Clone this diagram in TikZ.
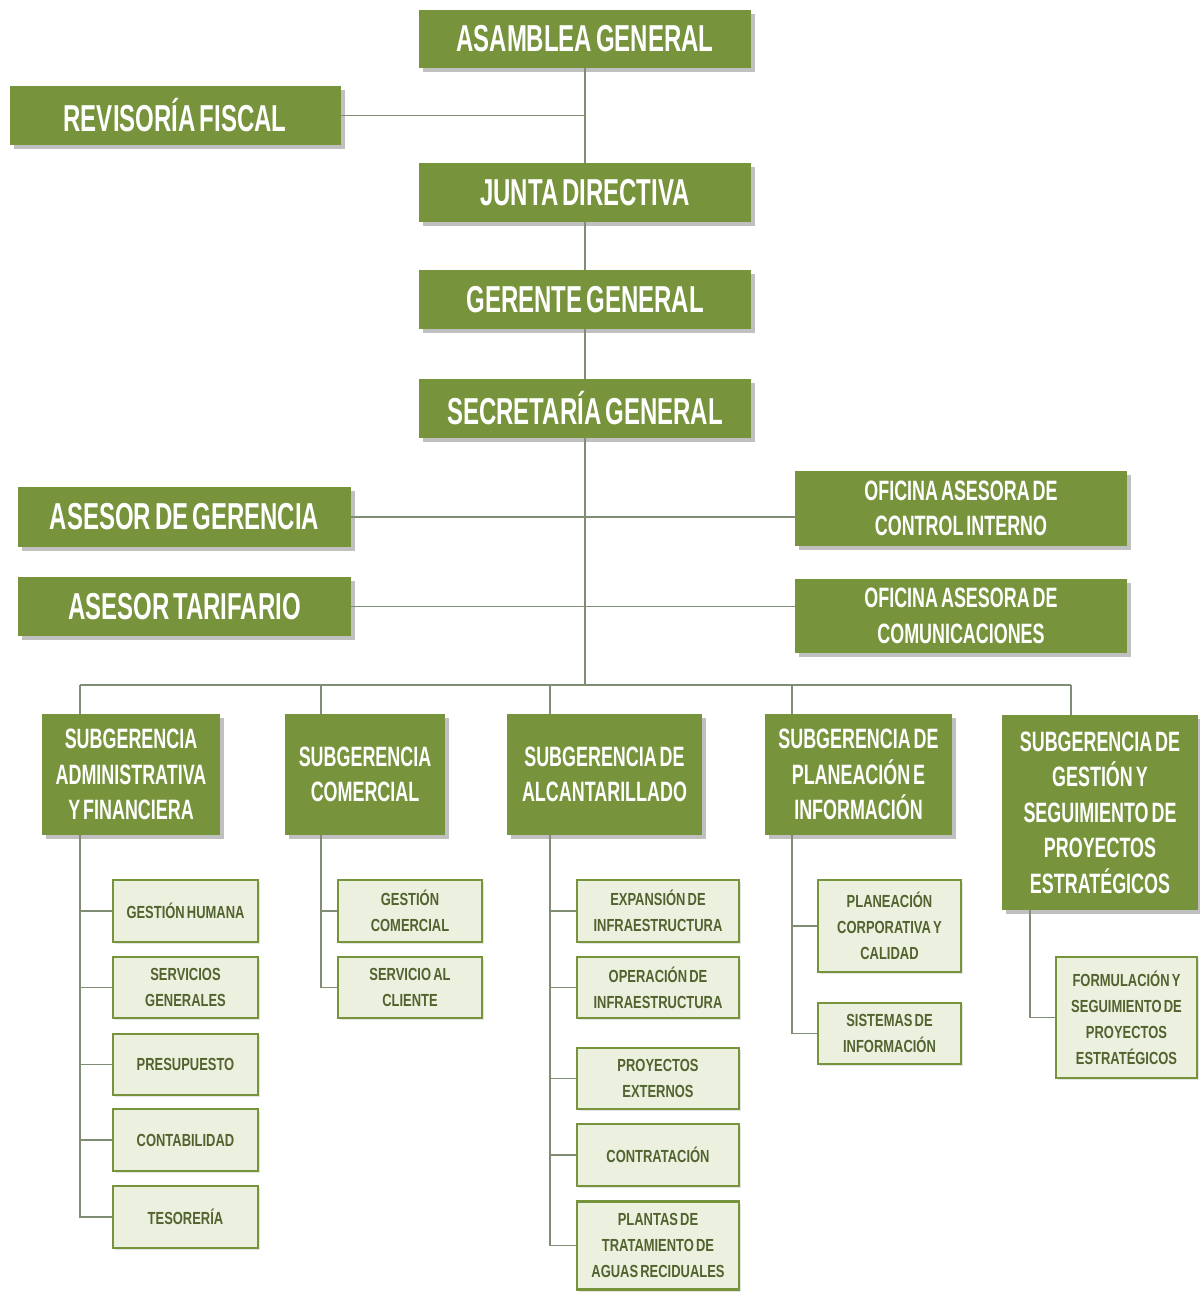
\documentclass[tikz,border=0pt]{standalone}
\usepackage{fontspec}
\setmainfont{Liberation Sans}
\newfontfamily\bigfont{Liberation Sans}[FakeStretch=0.64, WordSpace=0.6]
\newfontfamily\itemfont{Liberation Sans}[FakeStretch=0.74, WordSpace=0.6]
\usetikzlibrary{shadows}
\definecolor{olive}{HTML}{77933C}
\definecolor{palegreen}{HTML}{EBF1DE}
\definecolor{itemtext}{HTML}{52632F}
\definecolor{linkgray}{HTML}{7F8E72}
\tikzset{
  bigbox/.style={fill=olive, text=white, inner sep=0pt, align=center,
    font=\bigfont\bfseries\fontsize{37.5}{40}\selectfont,
    drop shadow={shadow xshift=4pt, shadow yshift=-4pt, fill=black!45, opacity=0.55}},
  twobox/.style={bigbox, font=\bigfont\bfseries\fontsize{28}{35.5}\selectfont},
  itembox/.style={fill=palegreen, draw=olive, line width=2.5pt, text=itemtext,
    inner sep=0pt, align=center, font=\itemfont\bfseries\fontsize{17.5}{26}\selectfont,
    drop shadow={shadow xshift=2pt, shadow yshift=-2pt, fill=black!25, opacity=0.4}},
  link/.style={draw=linkgray, line width=1.6pt},
}
\begin{document}
\begin{tikzpicture}[x=1pt, y=-1pt]
\useasboundingbox (0,0) rectangle (1199,1292);
\node[bigbox, minimum width=332pt, minimum height=58pt] (asamblea) at (585,39) {ASAMBLEA GENERAL};
\node[bigbox, minimum width=331pt, minimum height=59pt] (revisoria) at (175,115.5) {REVISORÍA FISCAL};
\node[bigbox, minimum width=332pt, minimum height=59pt] (junta) at (585,192.5) {JUNTA DIRECTIVA};
\node[bigbox, minimum width=332pt, minimum height=59pt] (gerente) at (585,299.5) {GERENTE GENERAL};
\node[bigbox, minimum width=332pt, minimum height=59pt] (secretaria) at (585,408.5) {SECRETARÍA GENERAL};
\node[bigbox, minimum width=333pt, minimum height=60pt] (asesorg) at (184.5,517) {ASESOR DE GERENCIA};
\node[bigbox, minimum width=333pt, minimum height=59pt] (tarifario) at (184.5,606.5) {ASESOR TARIFARIO};
\node[twobox, minimum width=332pt, minimum height=75pt] (control) at (961,508.5) {OFICINA ASESORA DE\\CONTROL INTERNO};
\node[twobox, minimum width=332pt, minimum height=74pt] (comunic) at (961,616) {OFICINA ASESORA DE\\COMUNICACIONES};
\node[twobox, minimum width=178pt, minimum height=121pt] (subadmin) at (131,774.5) {SUBGERENCIA\\ADMINISTRATIVA\\Y FINANCIERA};
\node[twobox, minimum width=160pt, minimum height=121pt] (subcom) at (365,774.5) {SUBGERENCIA\\COMERCIAL};
\node[twobox, minimum width=195pt, minimum height=121pt] (subalc) at (604.5,774.5) {SUBGERENCIA DE\\ALCANTARILLADO};
\node[twobox, minimum width=187pt, minimum height=121pt] (subplan) at (858.5,774.5) {SUBGERENCIA DE\\PLANEACIÓN E\\INFORMACIÓN};
\node[twobox, minimum width=196pt, minimum height=195pt] (subgest) at (1100,812.5) {SUBGERENCIA DE\\GESTIÓN Y\\SEGUIMIENTO DE\\PROYECTOS\\ESTRATÉGICOS};
\node[itembox, minimum width=145pt, minimum height=62pt] (humana) at (185.5,911) {GESTIÓN HUMANA};
\node[itembox, minimum width=145pt, minimum height=61pt] (servicios) at (185.5,987.5) {SERVICIOS\\GENERALES};
\node[itembox, minimum width=145pt, minimum height=61pt] (presupuesto) at (185.5,1064.5) {PRESUPUESTO};
\node[itembox, minimum width=145pt, minimum height=62pt] (contabilidad) at (185.5,1140) {CONTABILIDAD};
\node[itembox, minimum width=145pt, minimum height=62pt] (tesoreria) at (185.5,1217) {TESORERÍA};
\node[itembox, minimum width=144pt, minimum height=62pt] (gcomercial) at (410,911) {GESTIÓN\\COMERCIAL};
\node[itembox, minimum width=144pt, minimum height=61pt] (cliente) at (410,987.5) {SERVICIO AL\\CLIENTE};
\node[itembox, minimum width=162pt, minimum height=62pt] (expansion) at (658,911) {EXPANSIÓN DE\\INFRAESTRUCTURA};
\node[itembox, minimum width=162pt, minimum height=61pt] (operacion) at (658,987.5) {OPERACIÓN DE\\INFRAESTRUCTURA};
\node[itembox, minimum width=162pt, minimum height=61pt] (externos) at (658,1078.5) {PROYECTOS\\EXTERNOS};
\node[itembox, minimum width=162pt, minimum height=62pt] (contratacion) at (658,1155) {CONTRATACIÓN};
\node[itembox, minimum width=162pt, minimum height=88pt] (plantas) at (658,1245.5) {PLANTAS DE\\TRATAMIENTO DE\\AGUAS RECIDUALES};
\node[itembox, minimum width=143pt, minimum height=92pt] (corporativa) at (889.5,926) {PLANEACIÓN\\CORPORATIVA Y\\CALIDAD};
\node[itembox, minimum width=143pt, minimum height=61pt] (sistemas) at (889.5,1033.5) {SISTEMAS DE\\INFORMACIÓN};
\node[itembox, minimum width=141pt, minimum height=121pt] (formulacion) at (1126.5,1017.5) {FORMULACIÓN Y\\SEGUIMIENTO DE\\PROYECTOS\\ESTRATÉGICOS};
\coordinate (bus1) at (80,685);
\coordinate (bus2) at (321,685);
\coordinate (bus3) at (550,685);
\coordinate (bus4) at (792,685);
\coordinate (bus5) at (1071,685);
\coordinate (drop5) at (1030,685);
\draw[link] (asamblea.south) to (junta.north);
\draw[link] (revisoria.east) to (revisoria.east -| asamblea.south);
\draw[link] (junta.south) to (gerente.north);
\draw[link] (gerente.south) to (secretaria.north);
\draw[link] (secretaria.south) to (secretaria.south |- bus1);
\draw[link] (asesorg.east) to (asesorg.east -| control.west);
\draw[link] (tarifario.east) to (tarifario.east -| comunic.west);
\draw[link] (bus1) to (bus5);
\draw[link] (bus1) to (bus1 |- subadmin.north);
\draw[link] (bus2) to (bus2 |- subcom.north);
\draw[link] (bus3) to (bus3 |- subalc.north);
\draw[link] (bus4) to (bus4 |- subplan.north);
\draw[link] (bus5) to (bus5 |- subgest.north);
\draw[link] (bus1 |- subadmin.south) |- (tesoreria.west);
\foreach \n in {humana,servicios,presupuesto,contabilidad}
  \draw[link] (bus1 |- \n.west) to (\n.west);
\draw[link] (bus2 |- subcom.south) |- (cliente.west);
\draw[link] (bus2 |- gcomercial.west) to (gcomercial.west);
\draw[link] (bus3 |- subalc.south) |- (plantas.west);
\foreach \n in {expansion,operacion,externos,contratacion}
  \draw[link] (bus3 |- \n.west) to (\n.west);
\draw[link] (bus4 |- subplan.south) |- (sistemas.west);
\draw[link] (bus4 |- corporativa.west) to (corporativa.west);
\draw[link] (drop5 |- subgest.south) |- (formulacion.west);
\end{tikzpicture}
\end{document}
